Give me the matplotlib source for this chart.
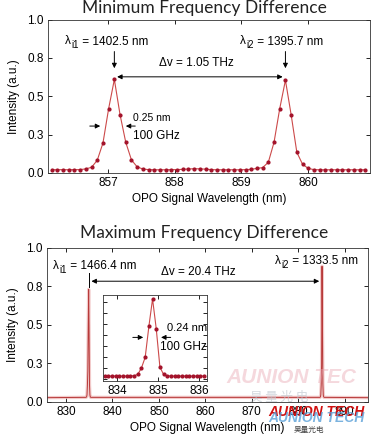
import matplotlib
matplotlib.use('Agg')
import matplotlib.pyplot as plt
import numpy as np

plt.rcParams['font.family'] = ['Liberation Sans', 'DejaVu Sans']

# --- upper panel: minimum frequency difference (sampled spectrum) ---
wl_min_start = 856.1545
wl_min_step = 0.0855
int_min = [0.022, 0.021, 0.022, 0.021, 0.022, 0.022, 0.027, 0.037, 0.083, 0.195,
           0.42, 0.61, 0.38, 0.20, 0.085, 0.040, 0.026, 0.022, 0.021, 0.021,
           0.021, 0.022, 0.022, 0.024, 0.026, 0.028, 0.027, 0.025, 0.022, 0.021,
           0.021, 0.021, 0.021, 0.021, 0.022, 0.024, 0.030, 0.035, 0.07, 0.20,
           0.42, 0.605, 0.38, 0.135, 0.057, 0.030, 0.022, 0.021, 0.021, 0.021,
           0.021, 0.021, 0.021, 0.021, 0.021, 0.021]
wl_min = wl_min_start + wl_min_step * np.arange(len(int_min))

# --- lower panel: maximum frequency difference ---
wl_inset_start = 833.70
wl_inset_step = 0.09
int_inset = [0.030, 0.030, 0.030, 0.030, 0.030, 0.030, 0.030, 0.031, 0.033, 0.045,
             0.105, 0.20, 0.48, 0.73, 0.46, 0.11, 0.045, 0.033, 0.030, 0.030,
             0.030, 0.030, 0.030, 0.030, 0.030, 0.030, 0.030, 0.030]
wl_inset = wl_inset_start + wl_inset_step * np.arange(len(int_inset))

wl_peak2 = [884.65, 884.74, 884.83, 884.92, 885.01, 885.10, 885.19, 885.28, 885.37, 885.46, 885.55]
int_peak2 = [0.030, 0.033, 0.045, 0.11, 0.24, 0.88, 0.52, 0.12, 0.045, 0.033, 0.030]
baseline_ends = ([825.0, 896.0], [0.028, 0.028])

wl_max = np.concatenate([[baseline_ends[0][0]], wl_inset, wl_peak2, [baseline_ends[0][1]]])
int_max = np.concatenate([[baseline_ends[1][0]], int_inset, int_peak2, [baseline_ends[1][1]]])

yticks = [0.0, 0.25, 0.5, 0.75, 1.0]
ytick_labels = ['0.0', '0.3', '0.5', '0.8', '1.0']

line_c = '#cc4a4a'
mark_c = '#a3122a'
tick_fs = 8.5

fig = plt.figure(figsize=(3.72, 4.42), dpi=100)

def style(ax):
    ax.tick_params(direction='in', length=3, width=0.6, top=True, right=True,
                   labelsize=tick_fs, pad=3)
    for s in ax.spines.values():
        s.set_linewidth(0.6)
        s.set_color('#333333')

# lambda with a readable subscript, built from 3 pieces
def lam_label(ax, x, y, sub, rest):
    t = ax.text(x, y, 'λ', fontsize=8.5, ha='left', va='baseline')
    s = ax.annotate(sub, xy=(1, 0), xycoords=t, xytext=(0.6, -0.4),
                    textcoords='offset points', fontsize=7, ha='left', va='baseline')
    ax.annotate(rest, xy=(1, 0), xycoords=(s, t), xytext=(0, 1.9),
                textcoords='offset points', fontsize=8.5, ha='left', va='baseline')

# upper
ax1 = fig.add_axes([0.129, 0.6086, 0.866, 0.347])
ax1.plot(wl_min, int_min, color=line_c, lw=0.8, marker='o', ms=2.0,
         mfc=mark_c, mec=mark_c)
ax1.set_xlim(856.1, 860.93)
ax1.set_ylim(0, 1.0)
ax1.set_xticks([857, 858, 859, 860])
ax1.set_yticks(yticks)
ax1.set_yticklabels(ytick_labels)
style(ax1)
ax1.set_xlabel('OPO Signal Wavelength (nm)', fontsize=8.5, labelpad=3)
ax1.set_ylabel('Intensity (a.u.)', fontsize=8.5, labelpad=5)
fig.text(0.55, 0.982, 'Minimum Frequency Difference', ha='center', va='center',
         fontsize=12.5, family=['Lato', 'DejaVu Sans'], color='#222222')

arr = dict(arrowstyle='-|>', color='black', lw=0.7, mutation_scale=7)
lam_label(ax1, 856.355, 0.84, 'i1', ' = 1402.5 nm')
lam_label(ax1, 858.98, 0.84, 'i2', ' = 1395.7 nm')
ax1.annotate('', xy=(857.095, 0.665), xytext=(857.095, 0.81), arrowprops=arr)
ax1.annotate('', xy=(859.66, 0.665), xytext=(859.66, 0.81), arrowprops=arr)
ax1.annotate('', xy=(857.095, 0.627), xytext=(859.66, 0.627),
             arrowprops=dict(arrowstyle='<|-|>', color='black', lw=0.7, mutation_scale=7))
ax1.text(858.33, 0.717, 'Δv = 1.05 THz', ha='center', va='center', fontsize=8.5)
ax1.annotate('', xy=(856.925, 0.306), xytext=(856.685, 0.306), arrowprops=arr)
ax1.annotate('', xy=(857.225, 0.306), xytext=(857.45, 0.306), arrowprops=arr)
ax1.text(857.375, 0.358, '0.25 nm', ha='left', va='center', fontsize=7.5)
ax1.text(857.375, 0.24, '100 GHz', ha='left', va='center', fontsize=8.5)

# lower
ax2 = fig.add_axes([0.1263, 0.0905, 0.863, 0.349])
ax2.plot(wl_max, int_max, color='#eaa8a8', lw=2.4, alpha=0.6)
ax2.plot(wl_max, int_max, color='#b83a3a', lw=0.7)
ax2.set_xlim(825.9, 895.0)
ax2.set_ylim(0, 1.0)
ax2.set_xticks([830, 840, 850, 860, 870, 880, 890])
ax2.set_yticks(yticks)
ax2.set_yticklabels(ytick_labels)
style(ax2)
ax2.set_xlabel('OPO Signal Wavelength (nm)', fontsize=8.5, labelpad=3)
ax2.set_ylabel('Intensity (a.u.)', fontsize=8.5, labelpad=5)
fig.text(0.55, 0.473, 'Maximum Frequency Difference', ha='center', va='center',
         fontsize=12.5, family=['Lato', 'DejaVu Sans'], color='#222222')

lam_label(ax2, 827.2, 0.862, 'i1', ' = 1466.4 nm')
lam_label(ax2, 874.9, 0.894, 'i2', ' = 1333.5 nm')
ax2.text(858.4, 0.844, 'Δv = 20.4 THz', ha='center', va='center', fontsize=8.5)
ax2.plot([834.87, 834.87], [0.745, 0.835], color='black', lw=0.7)
ax2.annotate('', xy=(834.87, 0.783), xytext=(885.1, 0.783),
             arrowprops=dict(arrowstyle='<|-|>', color='black', lw=0.7, mutation_scale=7))

# inset
ax3 = fig.add_axes([0.2769, 0.138, 0.2796, 0.1946])
ax3.plot(wl_inset, int_inset, color=line_c, lw=0.8, marker='o', ms=2.0,
         mfc=mark_c, mec=mark_c)
ax3.set_xlim(833.66, 836.2)
ax3.set_ylim(-0.015, 0.766)
ax3.set_xticks([834, 835, 836])
ax3.set_yticks(np.arange(0, 0.8, 0.1))
ax3.set_yticklabels([])
style(ax3)
ax3.annotate('', xy=(834.71, 0.381), xytext=(834.32, 0.381), arrowprops=arr)
ax3.annotate('', xy=(835.01, 0.381), xytext=(835.38, 0.381), arrowprops=arr)
ax3.text(835.23, 0.466, '0.24 nm', ha='left', va='center', fontsize=8)
ax3.text(835.06, 0.296, '100 GHz', ha='left', va='center', fontsize=8.5)

# watermark
fig.text(0.61, 0.147, 'AUNION TEC', fontsize=15, style='italic', weight='bold',
         color='#e9a9b4', alpha=0.45, ha='left', va='center')
fig.text(0.75, 0.101, '昊 量 光 电', fontsize=9, color='#c0c8d0', alpha=0.7,
         ha='center', va='center', family=['Noto Sans CJK SC', 'DejaVu Sans'])
fig.text(0.72, 0.068, 'AUNION TECH', fontsize=10, style='italic', weight='bold',
         color='#d01010', ha='left', va='center')
fig.text(0.72, 0.055, 'AUNION TECH', fontsize=10, style='italic', weight='bold',
         color='#5aa0d8', alpha=0.8, ha='left', va='center')
fig.text(0.83, 0.028, '昊量光电', fontsize=5.5, style='italic', color='#444444',
         ha='center', va='center', family=['Noto Sans CJK SC', 'DejaVu Sans'])

fig.savefig('out.png', dpi=100)
